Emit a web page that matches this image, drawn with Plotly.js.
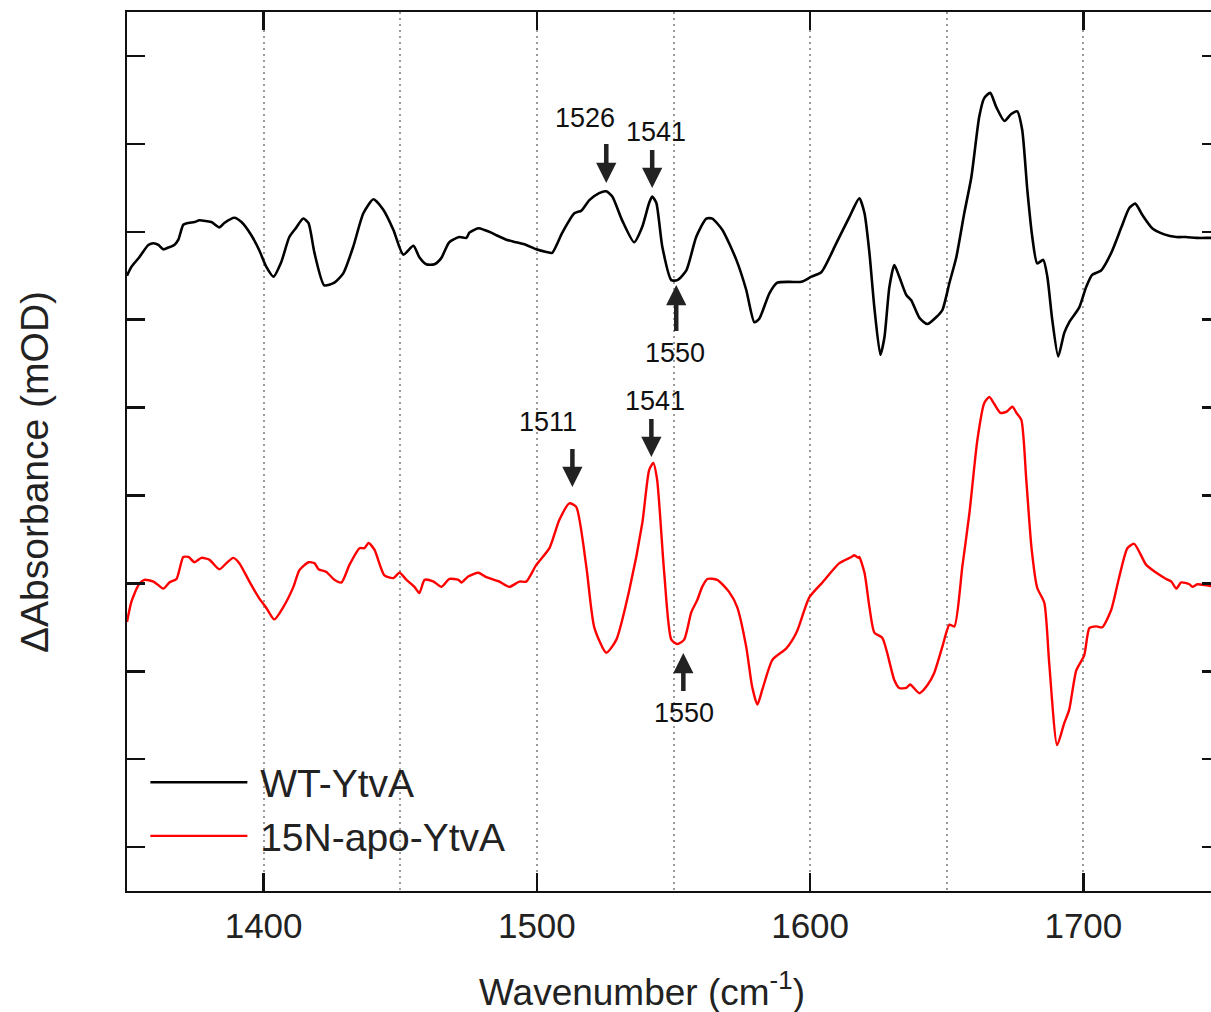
<!DOCTYPE html>
<html>
<head>
<meta charset="utf-8">
<script src="https://cdn.plot.ly/plotly-3.0.1.min.js"></script>
<style>
html,body{margin:0;padding:0;overflow:hidden;background:#fff;}
#chart{width:1240px;height:1012px;}
</style>
</head>
<body>
<div id="chart"></div>
<script>
// ---- Data (y in mOD, traces vertically offset as plotted) ----
const wtX = [1350,1351.6,1354.5,1357.8,1359.7,1361.5,1363.3,1365.1,1367.3,1368.8,1370.6,1372.5,1374.7,1376.5,1379.1,1380.9,1383.8,1385.6,1389.3,1391.9,1395.5,1398.4,1401.0,1403.6,1406.5,1409.4,1412.0,1414.5,1416.4,1418.6,1422.2,1425.9,1429.2,1432.8,1436.5,1440.2,1443.8,1447.5,1451.1,1454.8,1457.0,1459.5,1462.5,1465.0,1467.9,1471.6,1474.2,1475.3,1478.6,1480.8,1483.3,1485.2,1488.8,1492.5,1496.1,1499.8,1503.5,1505.6,1509.3,1513.7,1516.3,1519.2,1522.8,1525.4,1527.6,1531.2,1535.6,1538.5,1541.1,1542.2,1543.7,1545.9,1549.2,1551.4,1554.7,1558.3,1562.0,1564.2,1567.9,1573.0,1576.6,1579.6,1581.4,1585.1,1588.0,1592.4,1596.8,1600.5,1604.1,1609.6,1614.4,1618.0,1619.9,1621.7,1623.5,1625.7,1627.2,1629.0,1630.8,1632.6,1635.2,1637.0,1640.0,1642.9,1646.2,1648.4,1651.0,1653.5,1656.4,1659.0,1661.9,1663.7,1665.9,1668.1,1671.1,1673.6,1675.8,1677.6,1679.5,1681.3,1683.1,1685.3,1686.8,1688.6,1690.8,1693.0,1694.8,1698.5,1701.0,1703.2,1706.5,1710.2,1713.9,1716.8,1719.0,1721.6,1725.2,1729.6,1734.0,1737.6,1741.3,1746.4,1750];
const wtY = [1.50,1.60,1.71,1.85,1.87,1.85,1.80,1.82,1.85,1.91,2.08,2.10,2.11,2.13,2.12,2.11,2.05,2.10,2.16,2.11,1.96,1.79,1.60,1.49,1.66,1.94,2.05,2.15,2.10,1.76,1.39,1.42,1.53,1.83,2.21,2.37,2.25,2.02,1.74,1.84,1.71,1.63,1.63,1.70,1.88,1.94,1.93,1.99,2.04,2.02,1.99,1.96,1.91,1.88,1.85,1.80,1.77,1.76,1.99,2.21,2.24,2.36,2.44,2.46,2.40,2.13,1.88,2.05,2.33,2.40,2.33,1.83,1.45,1.45,1.56,1.94,2.15,2.15,2.02,1.68,1.34,0.97,1.01,1.30,1.42,1.43,1.43,1.49,1.54,1.87,2.17,2.38,2.21,1.76,1.14,0.60,0.80,1.37,1.62,1.49,1.28,1.22,1.02,0.95,1.03,1.11,1.42,1.71,2.21,2.62,3.31,3.52,3.58,3.42,3.26,3.34,3.37,3.16,2.47,1.94,1.64,1.68,1.49,1.00,0.58,0.85,0.97,1.14,1.37,1.51,1.56,1.76,2.05,2.27,2.32,2.19,2.04,1.97,1.94,1.94,1.93,1.93,1.93];

const apoX = [1350,1351.6,1354.2,1356.4,1359.7,1363.3,1365.5,1368.1,1370.6,1372.5,1374.7,1377.2,1380.1,1383.8,1386.4,1388.9,1391.1,1394.8,1398.4,1401.0,1403.9,1407.2,1410.9,1413.1,1416.4,1418.6,1420.1,1423.0,1425.9,1428.5,1431.4,1435.1,1436.9,1438.4,1440.6,1444.2,1447.5,1449.7,1452.3,1455.2,1457.0,1458.9,1462.2,1465.1,1468.0,1471.3,1472.4,1475.0,1478.6,1481.5,1485.2,1486.3,1489.9,1493.6,1496.1,1499.8,1504.6,1508.2,1511.9,1514.4,1518.1,1521.0,1525.4,1529.1,1533.8,1538.6,1541.1,1542.6,1544.0,1546.6,1549.2,1551.4,1553.9,1556.5,1558.7,1560.5,1562.4,1566.0,1570.4,1573.3,1576.6,1578.8,1580.7,1582.5,1586.2,1591.3,1595.0,1599.7,1604.5,1610.7,1615.1,1616.2,1617.6,1618.0,1619.9,1621.7,1623.5,1626.4,1628.2,1630.8,1632.6,1635.2,1636.6,1640.0,1642.9,1645.4,1648.4,1651.0,1652.8,1655.7,1658.3,1661.2,1663.7,1665.6,1667.4,1669.6,1671.8,1674.0,1675.5,1677.3,1679.1,1681.0,1683.1,1685.7,1687.5,1690.4,1693.0,1694.8,1697.4,1700.3,1702.2,1704.7,1706.9,1710.2,1713.1,1716.1,1718.6,1723.0,1726.7,1730.3,1732.2,1734.0,1735.8,1738.8,1739.9,1741.7,1746.4,1750];
const apoY = [-2.44,-2.21,-2.02,-1.96,-1.98,-2.06,-1.99,-1.95,-1.70,-1.70,-1.76,-1.71,-1.73,-1.84,-1.77,-1.71,-1.77,-1.98,-2.17,-2.28,-2.41,-2.27,-2.04,-1.85,-1.76,-1.77,-1.84,-1.87,-1.96,-1.99,-1.79,-1.60,-1.60,-1.54,-1.62,-1.91,-1.94,-1.88,-1.96,-2.04,-2.11,-1.96,-1.98,-2.04,-1.95,-1.96,-1.99,-1.92,-1.88,-1.93,-1.97,-1.98,-2.04,-1.98,-1.98,-1.79,-1.60,-1.28,-1.09,-1.13,-1.81,-2.50,-2.79,-2.64,-2.08,-1.31,-0.71,-0.63,-0.82,-1.88,-2.64,-2.69,-2.64,-2.33,-2.19,-2.04,-1.95,-1.96,-2.10,-2.27,-2.72,-3.18,-3.38,-3.21,-2.87,-2.74,-2.56,-2.16,-1.99,-1.77,-1.70,-1.68,-1.71,-1.70,-1.88,-2.27,-2.56,-2.62,-2.79,-3.10,-3.19,-3.19,-3.15,-3.25,-3.16,-3.02,-2.72,-2.47,-2.49,-1.81,-1.20,-0.37,0.05,0.12,0.04,-0.06,-0.05,0.01,-0.06,-0.14,-0.82,-1.59,-2.05,-2.22,-2.91,-3.84,-3.59,-3.44,-2.99,-2.82,-2.51,-2.49,-2.50,-2.30,-1.93,-1.60,-1.55,-1.79,-1.88,-1.95,-1.98,-2.06,-1.99,-2.01,-2.04,-2.01,-2.03,-2.02];

const seriesNames = ['WT-YtvA', '15N-apo-YtvA'];
const xTickVals = [1400, 1500, 1600, 1700];
const xTickText = ['1400', '1500', '1600', '1700'];

// Peak labels: label, arrow tip (wavenumber, value), label centre (wavenumber, value), arrow tail offset in px
const peakLabels   = ['1526', '1541', '1550', '1511', '1541', '1550'];
const peakArrowX   = [1525.4, 1542.2, 1551.0, 1513.0, 1541.9, 1553.6];
const peakArrowY   = [2.555, 2.498, 1.394, -0.904, -0.563, -2.793];
const peakTextX    = [1517.7, 1543.7, 1550.7, 1504.2, 1543.3, 1554.0];
const peakTextY    = [3.294, 3.135, 0.620, -0.165, 0.074, -3.475];
const peakArrowLen = [-41, -40, 48, -40, -40, 40];

const FONT = 'Liberation Sans, Arial, Helvetica, sans-serif';
const TXT = '#222222';

const traces = [
  {x: wtX, y: wtY, name: '\u2009' + seriesNames[0], type: 'scatter', mode: 'lines',
   line: {color: '#000000', width: 2.6, shape: 'spline', smoothing: 0.6}},
  {x: apoX, y: apoY, name: '\u2009' + seriesNames[1], type: 'scatter', mode: 'lines',
   line: {color: '#ff0000', width: 2.4, shape: 'spline', smoothing: 0.6}}
];

const annotations = [];
for (let i = 0; i < peakLabels.length; i++) {
  annotations.push({
    x: peakArrowX[i], y: peakArrowY[i], xref: 'x', yref: 'y',
    text: ' ', font: {size: 1}, showarrow: true, ax: 0, ay: peakArrowLen[i],
    arrowhead: 2, arrowsize: 0.9, arrowwidth: 4.5, arrowcolor: '#222222', standoff: 0
  });
  annotations.push({
    x: peakTextX[i], y: peakTextY[i], xref: 'x', yref: 'y',
    text: peakLabels[i], showarrow: false, xanchor: 'center', yanchor: 'middle',
    font: {family: FONT, size: 27, color: '#111111'}
  });
}
// axis titles
annotations.push({
  x: 0.471, y: -0.1126, xref: 'paper', yref: 'paper', xanchor: 'center', yanchor: 'middle',
  text: 'Wavenumber (cm<sup>-1</sup>)', showarrow: false,
  font: {family: FONT, size: 37, color: TXT}
});
annotations.push({
  x: -0.0842, y: 0.4767, xref: 'paper', yref: 'paper', xanchor: 'center', yanchor: 'middle',
  text: '\u0394Absorbance (mOD)', showarrow: false, textangle: -90,
  font: {family: FONT, size: 39, color: TXT}
});

const layout = {
  width: 1240, height: 1012,
  margin: {l: 127, r: 20, t: 12, b: 121, pad: 0},
  paper_bgcolor: '#ffffff', plot_bgcolor: '#ffffff',
  font: {family: FONT, color: TXT},
  showlegend: true,
  legend: {
    x: 0.0168, y: 0.16, xanchor: 'left', yanchor: 'top',
    bgcolor: 'rgba(0,0,0,0)', borderwidth: 0,
    itemwidth: 97, tracegroupgap: 0,
    font: {family: FONT, size: 39, color: TXT}
  },
  xaxis: {
    range: [1350, 1750], tickmode: 'array', tickvals: xTickVals, ticktext: xTickText,
    ticks: 'inside', ticklen: 18, tickwidth: 2.5, tickcolor: '#111',
    showline: true, linecolor: '#111', linewidth: 2, mirror: 'ticks',
    showgrid: true, gridcolor: '#9a9a9a', gridwidth: 2, griddash: '2px,4px',
    zeroline: false, ticklabelstandoff: 3,
    tickfont: {family: FONT, size: 35, color: TXT},
    minor: {dtick: 50, tick0: 1350, showgrid: true, gridcolor: '#9a9a9a', gridwidth: 2, griddash: '2px,4px', ticks: ''}
  },
  yaxis: {
    range: [-5.5, 4.5], dtick: 1, tick0: 0,
    ticks: 'inside', ticklen: 18, tickwidth: 2.5, tickcolor: '#111',
    showline: true, linecolor: '#111', linewidth: 2, mirror: 'ticks',
    showgrid: false, zeroline: false, showticklabels: false
  },
  annotations: annotations
};

Plotly.newPlot('chart', traces, layout, {displayModeBar: false, staticPlot: true});
</script>
</body>
</html>
